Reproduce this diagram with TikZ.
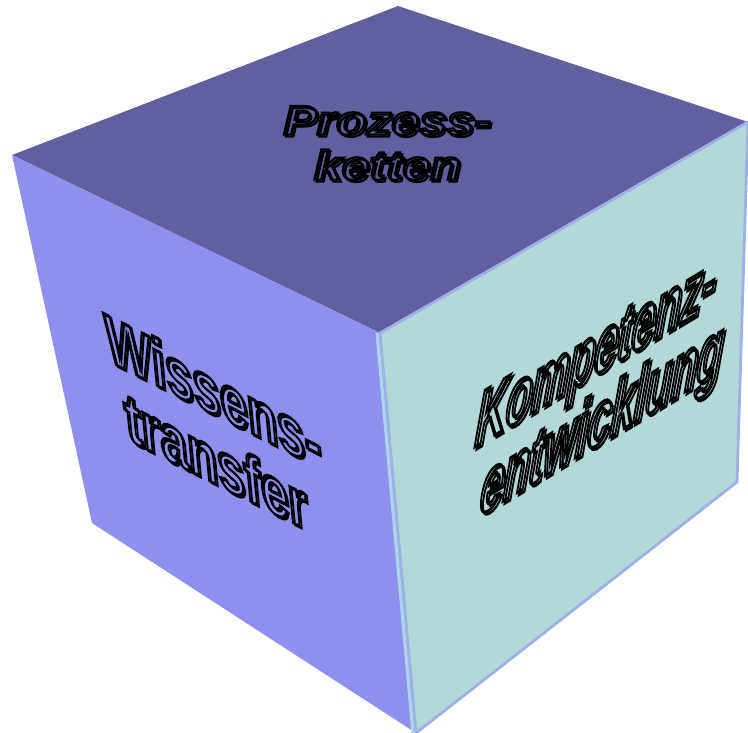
\documentclass[tikz,border=0pt]{standalone}
\usepackage{fontspec}
\setmainfont{Liberation Sans}
\newfontfamily\leanfont[FakeSlant=0.5]{Liberation Sans}
\usetikzlibrary{calc}
\definecolor{colTop}{RGB}{97,95,160}
\definecolor{colLeft}{RGB}{143,143,238}
\definecolor{colRight}{RGB}{180,216,216}
\definecolor{colEdge}{RGB}{160,176,230}
\definecolor{colStripe}{RGB}{172,214,232}
% outlined letters (stroke only)
\newcommand\hollow[1]{\special{pdf:literal direct 1 Tr 0.6 w}#1\special{pdf:literal direct 0 Tr}}

\begin{document}
\begin{tikzpicture}[x=0.01cm, y=-0.01cm,
  facetext/.style={align=center, inner sep=0pt, text=black},
  topfont/.style={font=\fontsize{11.8}{12.8}\selectfont\bfseries\itshape},
  leftfont/.style={font=\fontsize{15.6}{16.3}\selectfont\bfseries\itshape},
  rightfont/.style={font=\fontsize{13.9}{13.4}\selectfont\leanfont\bfseries},
  leftface/.style={cm={0.893,-0.450,-0.293,1.348,(0,0)}},
  rightface/.style={cm={0.857,0.515,-0.125,1.434,(0,0)}},
]
\useasboundingbox (0,0) rectangle (748,733);
% cube corners
\coordinate (t) at (398,6);
\coordinate (l) at (12,155);
\coordinate (c) at (380,333);
\coordinate (r) at (748,122);
\coordinate (lb) at (92,523);
\coordinate (b) at (416,733);
\coordinate (rb) at (737,482);

\fill[colTop] (t) -- (r) -- (c) -- (l) -- cycle;
\fill[colLeft] (l) -- (c) -- (b) -- (lb) -- cycle;
\fill[colRight, draw=colEdge, line width=0.8pt] (c) -- (r) -- (rb) -- (b) -- cycle;
\draw[colStripe, line width=0.9pt] ($(c)+(-3,0)$) -- ($(b)+(-3,0)$);

% labels
\node[facetext, topfont, xscale=1.2] (prozessb) at (389,145) {\hollow{Prozess-}\\\hollow{ketten}};
\node[facetext, topfont, xscale=1.2] (prozess) at (387,143) {\hollow{Prozess-}\\\hollow{ketten}};
\node[facetext, leftfont, leftface] (wissensb) at (222,430) {\hollow{Wissens-}\\\hollow{transfer}\hspace*{9pt}};
\node[facetext, leftfont, leftface] (wissens) at (220,428) {\hollow{Wissens-}\\\hollow{transfer}\hspace*{9pt}};
\node[facetext, rightfont, rightface] (kompetenzb) at (595,396) {\hollow{Kompetenz-}\\\hollow{entwicklung}};
\node[facetext, rightfont, rightface] (kompetenz) at (593,394) {\hollow{Kompetenz-}\\\hollow{entwicklung}};
\end{tikzpicture}
\end{document}
